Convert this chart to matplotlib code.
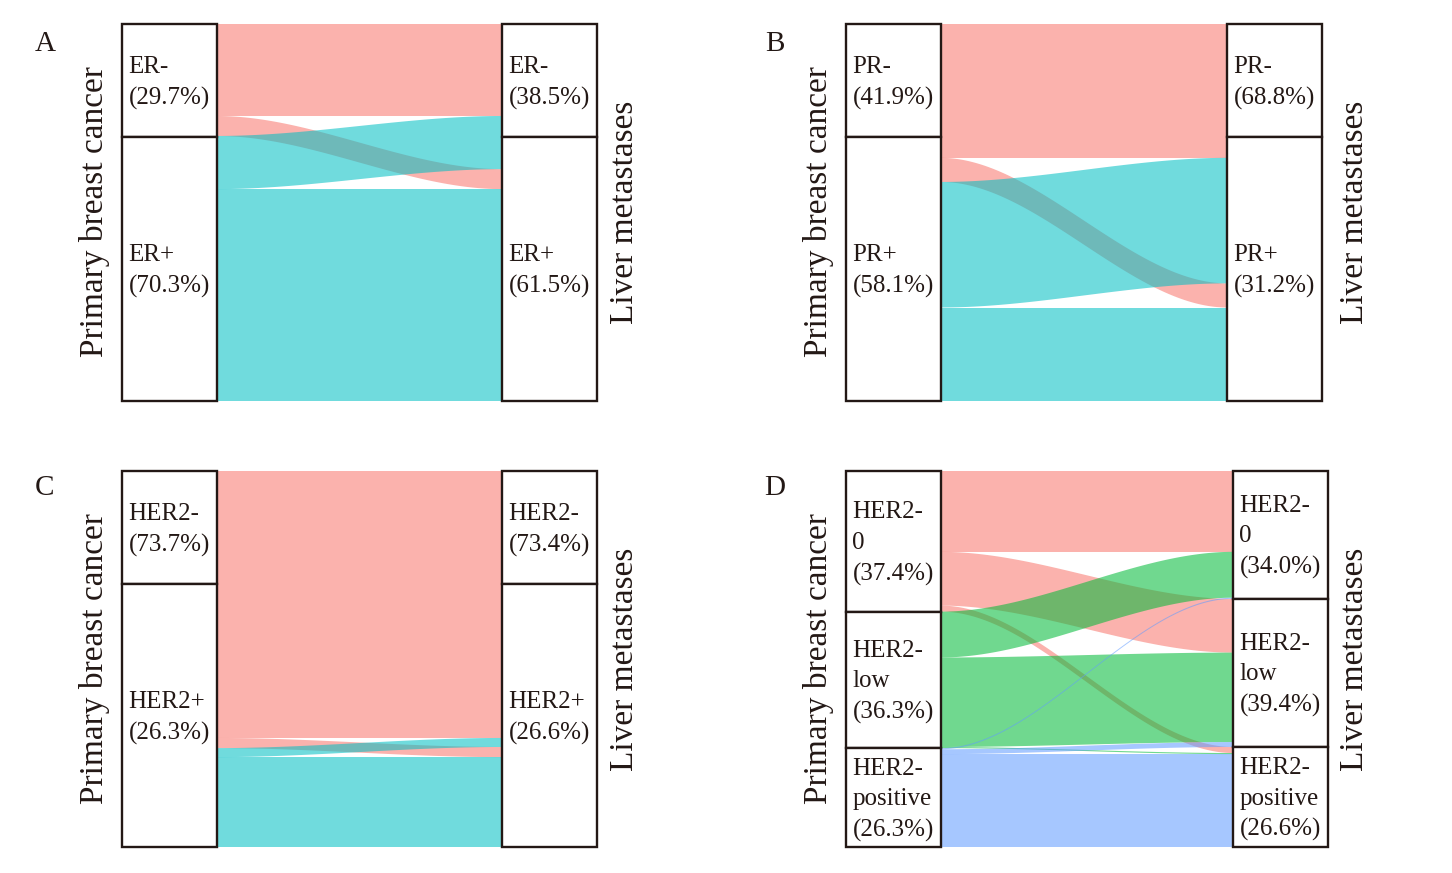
import numpy as np
import matplotlib
matplotlib.use('Agg')
import matplotlib.pyplot as plt
from matplotlib.patches import Rectangle

plt.rcParams['font.family'] = ['Liberation Serif', 'DejaVu Serif']

# ---------------- data (percent of patients) ----------------
# flows: rows = primary breast cancer status, cols = liver metastasis status
a_labels = ['ER-', 'ER+']
a_left_pct = ['29.7%', '70.3%']
a_right_pct = ['38.5%', '61.5%']
a_flows = [[24.4, 5.3],
           [14.1, 56.2]]

b_labels = ['PR-', 'PR+']
b_left_pct = ['41.9%', '58.1%']
b_right_pct = ['68.8%', '31.2%']
b_flows = [[35.5, 6.4],
           [33.3, 24.8]]

c_labels = ['HER2-', 'HER2+']
c_left_pct = ['73.7%', '26.3%']
c_right_pct = ['73.4%', '26.6%']
c_flows = [[71.0, 2.7],
           [2.4, 23.9]]

d_labels = ['HER2-\n0', 'HER2-\nlow', 'HER2-\npositive']
d_left_pct = ['37.4%', '36.3%', '26.3%']
d_right_pct = ['34.0%', '39.4%', '26.6%']
d_flows = [[21.5, 14.3, 1.6],
           [12.2, 23.8, 0.3],
           [0.3, 1.3, 24.7]]

left_title = 'Primary breast cancer'
right_title = 'Liver metastases'
panel_letters = ['A', 'B', 'C', 'D']

# ---------------- style / layout ----------------
COLS2 = ['#F8766D', '#00BFC4']
COLS3 = ['#F8766D', '#00BA38', '#619CFF']
ALPHA = 0.56
FIG_W, FIG_H = 1452, 873
BOX_W = 95
EDGE = '#231815'

fig = plt.figure(figsize=(FIG_W / 100, FIG_H / 100), dpi=100)


def make_ax(x0, x1, y0, y1):
    ax = fig.add_axes([x0 / FIG_W, 1 - y1 / FIG_H, (x1 - x0) / FIG_W, (y1 - y0) / FIG_H])
    ax.set_xlim(0, x1 - x0)
    ax.set_ylim(100, 0)
    ax.axis('off')
    return ax


def smooth(t):
    return t * t * (3 - 2 * t)


def draw_panel(ax, labels, lpct, rpct, flows, colors, left_splits=None, right_splits=None):
    flows = np.asarray(flows, dtype=float)
    n = flows.shape[0]
    W = ax.get_xlim()[1]
    xl, xr = BOX_W, W - BOX_W
    # left positions: by source then target
    lpos = {}
    y = 0.0
    for i in range(n):
        for j in range(n):
            lpos[(i, j)] = (y, y + flows[i, j])
            y += flows[i, j]
    # right positions: by target then source
    rpos = {}
    y = 0.0
    for j in range(n):
        for i in range(n):
            rpos[(i, j)] = (y, y + flows[i, j])
            y += flows[i, j]
    t = np.linspace(0, 1, 120)
    s = smooth(t)
    xs = xl + (xr - xl) * t
    for i in range(n):
        for j in range(n):
            (a0, a1), (b0, b1) = lpos[(i, j)], rpos[(i, j)]
            top = a0 + (b0 - a0) * s
            bot = a1 + (b1 - a1) * s
            ax.fill(np.concatenate([xs, xs[::-1]]), np.concatenate([top, bot[::-1]]),
                    color=colors[i], alpha=ALPHA, lw=0, zorder=2)
    # strata boxes
    if left_splits is None:
        left_splits = np.concatenate([[0], np.cumsum(flows.sum(axis=1))])
    if right_splits is None:
        right_splits = np.concatenate([[0], np.cumsum(flows.sum(axis=0))])
    for x0, splits, names, pcts in [(0, left_splits, labels, lpct), (xr, right_splits, labels, rpct)]:
        for k in range(n):
            y0, y1 = splits[k], splits[k + 1]
            ax.add_patch(Rectangle((x0, y0), BOX_W, y1 - y0, facecolor='white', edgecolor=EDGE,
                                   lw=1.7, zorder=3, clip_on=False))
            ax.text(x0 + 6.5, (y0 + y1) / 2 + 0.6, f'{names[k]}\n({pcts[k]})', ha='left', va='center',
                    fontsize=18, color='#231815', zorder=4, linespacing=1.5)


fixed_split = [0, 30.0, 100]

axA = make_ax(122, 597, 24, 401)
draw_panel(axA, a_labels, a_left_pct, a_right_pct, a_flows, COLS2, fixed_split, fixed_split)
axB = make_ax(846, 1322, 24, 401)
draw_panel(axB, b_labels, b_left_pct, b_right_pct, b_flows, COLS2, fixed_split, fixed_split)
axC = make_ax(122, 597, 471, 847)
draw_panel(axC, c_labels, c_left_pct, c_right_pct, c_flows, COLS2, fixed_split, fixed_split)
axD = make_ax(846, 1328, 471, 847)
draw_panel(axD, d_labels, d_left_pct, d_right_pct, d_flows, COLS3)


def ftext(px, py, s, **kw):
    fig.text(px / FIG_W, 1 - py / FIG_H, s, **kw)


for (lx, rx, cy) in [(95, 625, 212), (819, 1355, 212), (95, 625, 659), (819, 1355, 659)]:
    ftext(lx, cy, left_title, rotation=90, ha='center', va='center', fontsize=24, color='#231815')
    ftext(rx, cy, right_title, rotation=90, ha='center', va='center', fontsize=24, color='#231815')

for letter, (px, py) in zip(panel_letters, [(45, 44), (775, 44), (45, 488), (775, 488)]):
    ftext(px, py, letter, ha='center', va='center', fontsize=21, color='#231815')

fig.savefig('out.png', dpi=100, facecolor='white')
